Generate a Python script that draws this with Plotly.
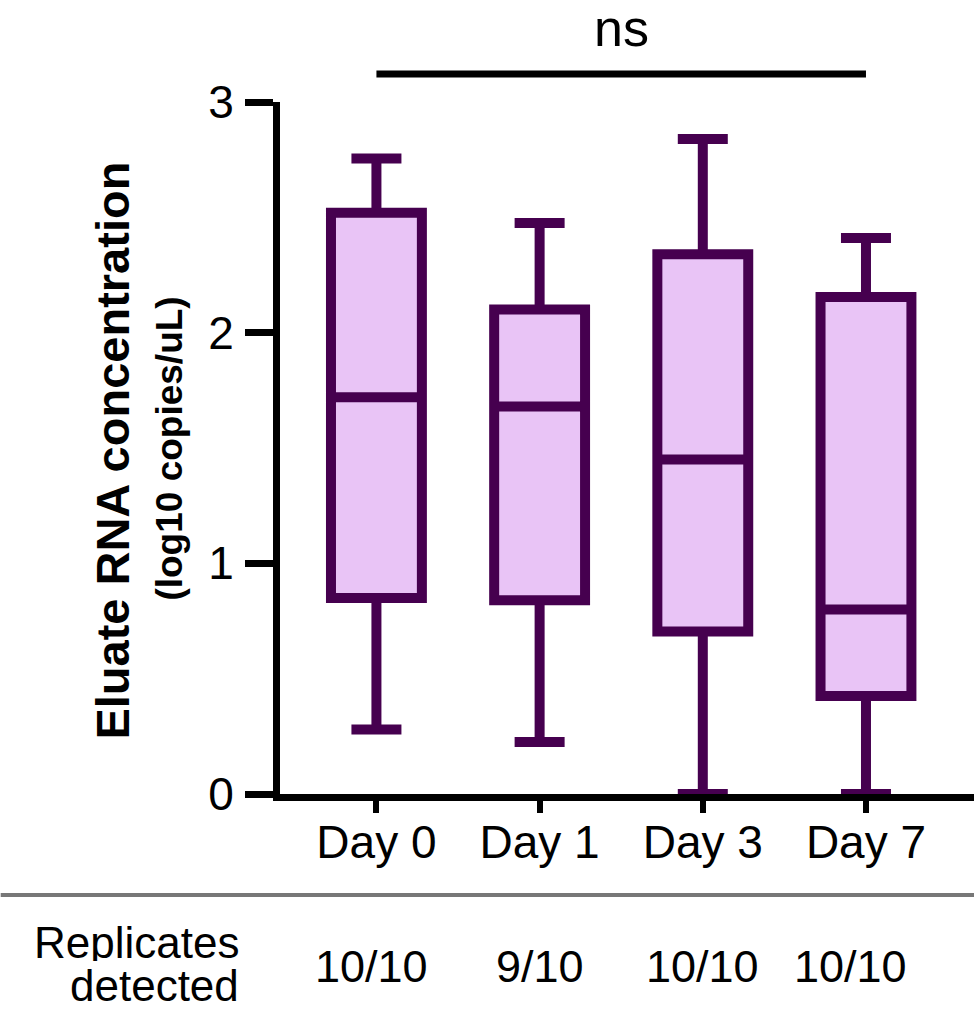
import plotly.graph_objects as go

# ---- data ----
days = ["Day 0", "Day 1", "Day 3", "Day 7"]
q1 = [0.85, 0.84, 0.705, 0.425]
median = [1.72, 1.68, 1.45, 0.80]
q3 = [2.52, 2.10, 2.34, 2.155]
lower_whisker = [0.28, 0.225, 0.0, 0.0]
upper_whisker = [2.755, 2.475, 2.84, 2.41]
replicates = ["10/10", "9/10", "10/10", "10/10"]
y_ticks = [0, 1, 2, 3]
sig_label = "ns"

LINE = "#46004F"
FILL = "#E9C4F6"
FONT = "Liberation Sans, Arial, sans-serif"

W, H = 974, 1012
ML, MT, MB, MR = 279.5, 102, 218, 0
PW = W - ML - MR
PH = H - MT - MB
CAT_PX = 163.3
x0_off = (376 - ML) / CAT_PX
xr = [-x0_off, -x0_off + PW / CAT_PX]


def py(px):
    """pixel row -> paper y"""
    return 1 - (px - MT) / PH


def px_(x):
    """pixel column -> paper x"""
    return (x - ML) / PW


fig = go.Figure()
fig.add_trace(go.Box(
    x=days, q1=q1, median=median, q3=q3,
    lowerfence=lower_whisker, upperfence=upper_whisker,
    width=0.557, whiskerwidth=0.55,
    line=dict(color=LINE, width=10),
    fillcolor=FILL, boxpoints=False, hoverinfo="skip", showlegend=False,
))

fig.update_layout(
    width=W, height=H,
    margin=dict(l=ML, r=MR, t=MT, b=MB),
    plot_bgcolor="white", paper_bgcolor="white",
    font=dict(family=FONT, color="black"),
    xaxis=dict(
        type="category", range=xr, showgrid=False, zeroline=False,
        showline=True, linecolor="black", linewidth=7,
        ticks="outside", ticklen=12, tickwidth=6, tickcolor="black",
        tickfont=dict(size=46, family=FONT), ticklabelstandoff=-10,
    ),
    yaxis=dict(
        range=[0, 3], tickvals=y_ticks, showgrid=False, zeroline=False,
        showline=True, linecolor="black", linewidth=7,
        ticks="outside", ticklen=28, tickwidth=7, tickcolor="black",
        tickfont=dict(size=46, family=FONT), ticklabelstandoff=2,
    ),
)

# significance bar
fig.add_shape(type="line", xref="x", yref="paper",
              x0=days[0], x1=days[-1], y0=py(74), y1=py(74),
              line=dict(color="black", width=7))
fig.add_annotation(text=sig_label, xref="x", yref="paper", x=1.5, y=py(28),
                   showarrow=False, height=50, valign="middle",
                   font=dict(size=52, family=FONT),
                   xanchor="center", yanchor="middle")

# y-axis titles
fig.add_annotation(text="<b>Eluate RNA concentration</b>", textangle=-90,
                   xref="paper", yref="paper", x=px_(111), y=py(451),
                   showarrow=False, font=dict(size=47, family=FONT),
                   xanchor="center", yanchor="middle")
fig.add_annotation(text="<b>(log10 copies/uL)</b>", textangle=-90,
                   xref="paper", yref="paper", x=px_(169), y=py(449),
                   showarrow=False, font=dict(size=37, family=FONT),
                   xanchor="center", yanchor="middle")

# divider line
fig.add_shape(type="line", xref="paper", yref="paper",
              x0=px_(0), x1=1, y0=py(895), y1=py(895),
              line=dict(color="#777777", width=4))

# replicates table
fig.add_annotation(text="Replicates", xref="paper", yref="paper",
                   x=px_(240), y=py(942), showarrow=False, height=38,
                   font=dict(size=44, family=FONT), xanchor="right", yanchor="middle")
fig.add_annotation(text="detected", xref="paper", yref="paper",
                   x=px_(240), y=py(985), showarrow=False, height=38,
                   font=dict(size=44, family=FONT), xanchor="right", yanchor="middle")
shifts = [-5, 0, 0, -15]
for d, r, s in zip(days, replicates, shifts):
    fig.add_annotation(text=r, xref="x", yref="paper", x=d, y=py(966),
                       xshift=s, showarrow=False, font=dict(size=45, family=FONT),
                       xanchor="center", yanchor="middle")

fig.write_html("out.html", config={"displayModeBar": False},
               post_script="document.body.style.margin='0';document.body.style.overflow='hidden';")
